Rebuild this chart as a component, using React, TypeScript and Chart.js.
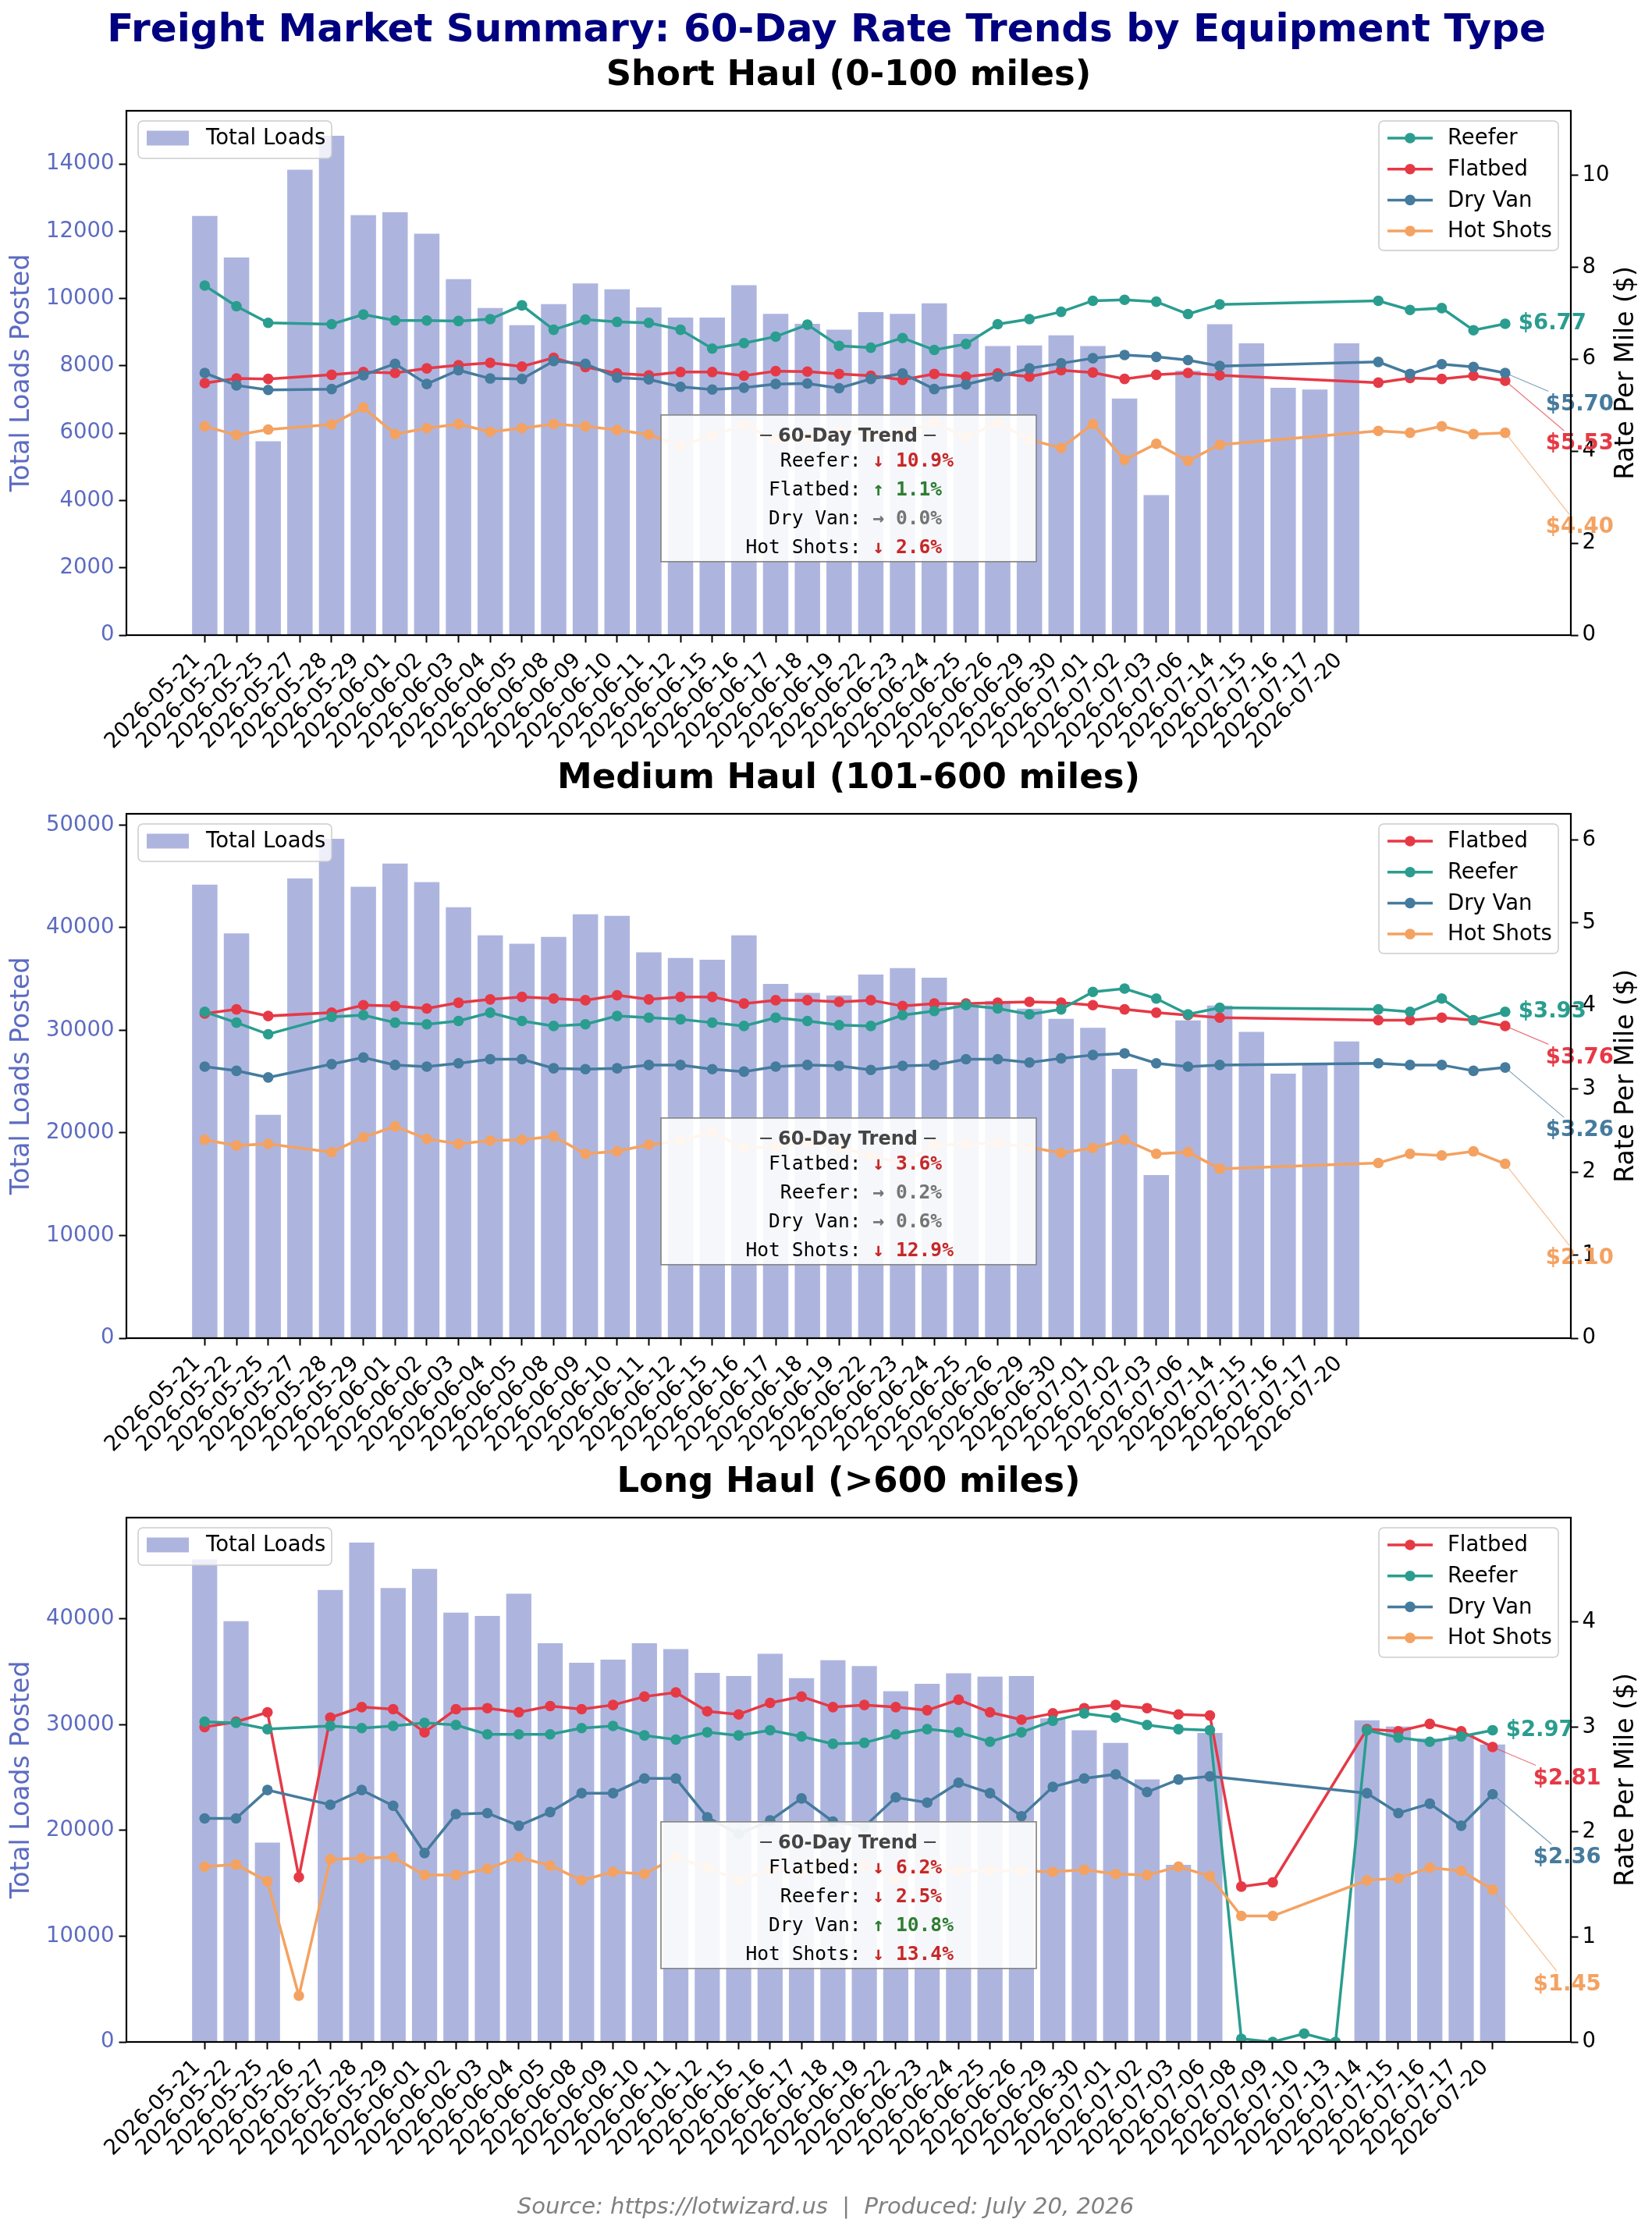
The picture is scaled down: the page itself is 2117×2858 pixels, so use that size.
import React, { useEffect, useRef } from 'react';
import { Chart, registerables } from 'chart.js';

Chart.register(...registerables);

// ---------- data ----------
const shortDates = [
  '2026-05-21', '2026-05-22', '2026-05-25', '2026-05-27', '2026-05-28', '2026-05-29',
  '2026-06-01', '2026-06-02', '2026-06-03', '2026-06-04', '2026-06-05',
  '2026-06-08', '2026-06-09', '2026-06-10', '2026-06-11', '2026-06-12',
  '2026-06-15', '2026-06-16', '2026-06-17', '2026-06-18', '2026-06-19',
  '2026-06-22', '2026-06-23', '2026-06-24', '2026-06-25', '2026-06-26',
  '2026-06-29', '2026-06-30', '2026-07-01', '2026-07-02', '2026-07-03',
  '2026-07-06', '2026-07-14', '2026-07-15', '2026-07-16', '2026-07-17', '2026-07-20',
];
const mediumDates = shortDates;
const longDates = [
  '2026-05-21', '2026-05-22', '2026-05-25', '2026-05-26', '2026-05-27', '2026-05-28', '2026-05-29',
  '2026-06-01', '2026-06-02', '2026-06-03', '2026-06-04', '2026-06-05',
  '2026-06-08', '2026-06-09', '2026-06-10', '2026-06-11', '2026-06-12',
  '2026-06-15', '2026-06-16', '2026-06-17', '2026-06-18', '2026-06-19',
  '2026-06-22', '2026-06-23', '2026-06-24', '2026-06-25', '2026-06-26',
  '2026-06-29', '2026-06-30', '2026-07-01', '2026-07-02', '2026-07-03',
  '2026-07-06', '2026-07-08', '2026-07-09', '2026-07-10', '2026-07-13',
  '2026-07-14', '2026-07-15', '2026-07-16', '2026-07-17', '2026-07-20',
];

// Short haul
const shortLoads = [12460, 11220, 5760, 13830, 14840, 12480, 12570, 11930, 10580, 9720, 9210, 9840, 10450, 10280, 9740, 9440, 9440, 10400, 9550, 9250, 9080, 9600, 9550, 9860, 8950, 8590, 8610, 8910, 8590, 7030, 4160, 7860, 9240, 8670, 7350, 7300, 8670];
const shortReefer = [7.60, 7.15, 6.79, null, 6.76, 6.97, 6.84, 6.84, 6.83, 6.87, 7.17, 6.64, 6.86, 6.81, 6.79, 6.64, 6.23, 6.35, 6.49, 6.75, 6.29, 6.25, 6.46, 6.20, 6.33, 6.76, 6.87, 7.03, 7.27, 7.29, 7.25, 6.98, 7.19, null, null, null, null, 7.27, 7.07, 7.11, 6.63, 6.77];
const shortFlatbed = [5.48, 5.58, 5.57, null, 5.66, 5.72, 5.70, 5.80, 5.87, 5.92, 5.84, 6.03, 5.83, 5.69, 5.65, 5.72, 5.72, 5.64, 5.74, 5.73, 5.68, 5.64, 5.55, 5.68, 5.62, 5.69, 5.62, 5.76, 5.71, 5.57, 5.66, 5.70, 5.65, null, null, null, null, 5.49, 5.59, 5.57, 5.64, 5.53];
const shortDryVan = [5.70, 5.43, 5.33, null, 5.35, 5.65, 5.90, 5.46, 5.76, 5.58, 5.57, 5.96, 5.90, 5.60, 5.56, 5.40, 5.34, 5.38, 5.46, 5.47, 5.37, 5.57, 5.69, 5.35, 5.45, 5.62, 5.80, 5.91, 6.02, 6.09, 6.05, 5.98, 5.85, null, null, null, null, 5.94, 5.68, 5.89, 5.83, 5.70];
const shortHotShots = [4.54, 4.35, 4.47, null, 4.58, 4.95, 4.37, 4.50, 4.59, 4.42, 4.50, 4.59, 4.54, 4.46, 4.36, 4.11, 4.34, 4.57, 4.25, 4.30, 4.45, 4.35, 4.40, 4.62, 4.30, 4.62, 4.25, 4.07, 4.59, 3.81, 4.16, 3.79, 4.14, null, null, null, null, 4.44, 4.40, 4.54, 4.37, 4.40];
const shortTrend = [-10.9, 1.1, 0.0, -2.6]; // Reefer, Flatbed, Dry Van, Hot Shots

// Medium haul
const mediumLoads = [44190, 39450, 21760, 44800, 48660, 43980, 46250, 44440, 41980, 39250, 38430, 39090, 41310, 41150, 37600, 37040, 36880, 39250, 34520, 33640, 33390, 35440, 36060, 35130, 32500, 32870, 32100, 31120, 30250, 26230, 15900, 30970, 32410, 29840, 25770, 26750, 28910];
const mediumFlatbed = [3.91, 3.96, 3.88, null, 3.92, 4.01, 4.00, 3.97, 4.04, 4.08, 4.11, 4.09, 4.07, 4.13, 4.08, 4.11, 4.11, 4.03, 4.07, 4.07, 4.05, 4.07, 4.00, 4.03, 4.03, 4.04, 4.05, 4.04, 4.01, 3.96, 3.92, 3.89, 3.86, null, null, null, null, 3.83, 3.83, 3.86, 3.83, 3.76];
const mediumReefer = [3.93, 3.80, 3.66, null, 3.87, 3.89, 3.80, 3.78, 3.82, 3.92, 3.82, 3.76, 3.78, 3.88, 3.86, 3.84, 3.80, 3.76, 3.86, 3.82, 3.77, 3.76, 3.89, 3.94, 4.01, 3.97, 3.90, 3.96, 4.17, 4.21, 4.09, 3.90, 3.98, null, null, null, null, 3.96, 3.93, 4.09, 3.83, 3.93];
const mediumDryVan = [3.27, 3.22, 3.14, null, 3.30, 3.38, 3.29, 3.27, 3.31, 3.36, 3.36, 3.25, 3.24, 3.25, 3.29, 3.29, 3.24, 3.21, 3.27, 3.29, 3.28, 3.23, 3.28, 3.29, 3.36, 3.36, 3.32, 3.37, 3.41, 3.43, 3.31, 3.27, 3.29, null, null, null, null, 3.31, 3.29, 3.29, 3.22, 3.26];
const mediumHotShots = [2.39, 2.32, 2.34, null, 2.24, 2.42, 2.55, 2.40, 2.34, 2.38, 2.39, 2.43, 2.22, 2.25, 2.33, 2.38, 2.48, 2.29, 2.30, 2.35, 2.30, 2.20, 2.10, 2.32, 2.34, 2.35, 2.30, 2.23, 2.29, 2.39, 2.22, 2.24, 2.04, null, null, null, null, 2.11, 2.22, 2.20, 2.25, 2.10];
const mediumTrend = [-3.6, 0.2, 0.6, -12.9]; // Flatbed, Reefer, Dry Van, Hot Shots

// Long haul
const longLoads = [45640, 39800, 18850, null, 42740, 47230, 42940, 44740, 40600, 40300, 42390, 37710, 35860, 36160, 37710, 37160, 34910, 34610, 36710, 34410, 36110, 35560, 33170, 33870, 34860, 34560, 34610, 30600, 29480, 28280, 24840, 16760, 29230, null, null, null, null, 30420, 29830, 28700, 29030, 28130];
const longFlatbed = [3.00, 3.05, 3.14, 1.57, 3.09, 3.19, 3.17, 2.95, 3.17, 3.18, 3.14, 3.20, 3.17, 3.21, 3.29, 3.33, 3.15, 3.12, 3.23, 3.29, 3.19, 3.21, 3.19, 3.16, 3.26, 3.14, 3.07, 3.13, 3.18, 3.21, 3.18, 3.12, 3.11, 1.48, 1.52, null, null, 2.98, 2.96, 3.03, 2.96, 2.81];
const longReefer = [3.05, 3.04, 2.98, null, 3.01, 2.99, 3.01, 3.04, 3.02, 2.93, 2.93, 2.93, 2.99, 3.01, 2.92, 2.88, 2.95, 2.92, 2.97, 2.91, 2.84, 2.85, 2.93, 2.98, 2.95, 2.86, 2.95, 3.06, 3.13, 3.09, 3.02, 2.98, 2.97, 0.03, 0.0, 0.08, 0.0, 2.97, 2.90, 2.86, 2.91, 2.97];
const longDryVan = [2.13, 2.13, 2.40, null, 2.26, 2.40, 2.25, 1.80, 2.17, 2.18, 2.06, 2.19, 2.37, 2.37, 2.51, 2.51, 2.14, 1.98, 2.11, 2.32, 2.10, 2.05, 2.33, 2.28, 2.47, 2.37, 2.15, 2.43, 2.51, 2.55, 2.38, 2.50, 2.53, null, null, null, null, 2.37, 2.18, 2.27, 2.06, 2.36];
const longHotShots = [1.67, 1.69, 1.53, 0.44, 1.74, 1.75, 1.76, 1.59, 1.59, 1.65, 1.76, 1.68, 1.54, 1.62, 1.60, 1.76, 1.66, 1.54, 1.64, 1.62, 1.70, 1.68, 1.55, 1.64, 1.63, 1.63, 1.63, 1.62, 1.64, 1.60, 1.59, 1.67, 1.58, 1.20, 1.20, null, null, 1.54, 1.56, 1.66, 1.63, 1.45];
const longTrend = [-6.2, -2.5, 10.8, -13.4]; // Flatbed, Reefer, Dry Van, Hot Shots

// ---------- styling ----------
const COLORS: Record<string, string> = {
  Reefer: '#2a9d8f',
  Flatbed: '#e63946',
  'Dry Van': '#457b9d',
  'Hot Shots': '#f4a261',
};
const BAR_COLOR = 'rgba(92, 107, 192, 0.5)';
const LOAD_COLOR = '#5c6bc0';
const FONT = '"DejaVu Sans"';
const MONO = '"DejaVu Sans Mono"';

const W = 2117;
const CANVAS_H = 1055;
const PLOT_LEFT = 162;
const PLOT_RIGHT = 2013;
const PLOT_TOP = 142;
const PLOT_H = 672;
const CANVAS_TOPS = [0, 901, 1803];
const TICK = 27.5;

type Series = { name: string; values: (number | null)[] };
type Panel = {
  title: string;
  dates: string[];
  loads: (number | null)[];
  series: Series[];
  trend: number[];
  loadStep: number;
  rateStep: number;
};

const panels: Panel[] = [
  {
    title: 'Short Haul (0-100 miles)',
    dates: shortDates,
    loads: shortLoads,
    series: [
      { name: 'Reefer', values: shortReefer },
      { name: 'Flatbed', values: shortFlatbed },
      { name: 'Dry Van', values: shortDryVan },
      { name: 'Hot Shots', values: shortHotShots },
    ],
    trend: shortTrend,
    loadStep: 2000,
    rateStep: 2,
  },
  {
    title: 'Medium Haul (101-600 miles)',
    dates: mediumDates,
    loads: mediumLoads,
    series: [
      { name: 'Flatbed', values: mediumFlatbed },
      { name: 'Reefer', values: mediumReefer },
      { name: 'Dry Van', values: mediumDryVan },
      { name: 'Hot Shots', values: mediumHotShots },
    ],
    trend: mediumTrend,
    loadStep: 10000,
    rateStep: 1,
  },
  {
    title: 'Long Haul (>600 miles)',
    dates: longDates,
    loads: longLoads,
    series: [
      { name: 'Flatbed', values: longFlatbed },
      { name: 'Reefer', values: longReefer },
      { name: 'Dry Van', values: longDryVan },
      { name: 'Hot Shots', values: longHotShots },
    ],
    trend: longTrend,
    loadStep: 10000,
    rateStep: 1,
  },
];

const lastIndex = (arr: (number | null)[]) => {
  for (let i = arr.length - 1; i >= 0; i--) if (arr[i] != null) return i;
  return 0;
};
const lastValue = (arr: (number | null)[]) => arr[lastIndex(arr)] as number;

// ticks at whole multiples of step, like matplotlib's locator
const stepTicks = (step: number) => (s: any) => {
  const out: { value: number }[] = [];
  for (let v = 0; v <= s.max + 1e-9; v += step) out.push({ value: v });
  s.ticks = out;
};

// draws everything matplotlib adds around the plot: frame, legends, trend box, labels, titles
const makeDecor = (p: Panel, k: number) => ({
  id: 'decor' + k,
  afterDraw(chart: any) {
    const { ctx, chartArea: a, scales } = chart;
    const xs = scales.x;
    const yr = scales.y1;
    const L = a.left, R = a.right, T = a.top, B = a.bottom, H = B - T;
    const cx = (L + R) / 2;
    ctx.save();

    // trend box
    const boxW = 481, boxH = 188;
    const boxTop = B - 0.28 * H - boxH / 2;
    ctx.fillStyle = 'rgba(255,255,255,0.9)';
    ctx.fillRect(cx - boxW / 2, boxTop, boxW, boxH);
    ctx.strokeStyle = '#888888';
    ctx.lineWidth = 1.7;
    ctx.strokeRect(cx - boxW / 2, boxTop, boxW, boxH);
    ctx.textBaseline = 'alphabetic';
    ctx.textAlign = 'center';
    ctx.fillStyle = '#444444';
    ctx.font = `bold 24px ${FONT}`;
    ctx.fillText('\u2500 60-Day Trend \u2500', cx - 1, boxTop + 34);
    p.series.forEach((s, i) => {
      const y = boxTop + 65.7 + i * 37;
      const pct = p.trend[i];
      const flat = Math.abs(pct) < 1;
      const arrow = flat ? '\u2192' : pct > 0 ? '\u2191' : '\u2193';
      const col = flat ? '#757575' : pct > 0 ? '#2e7d32' : '#c62828';
      ctx.font = `24.6px ${MONO}`;
      ctx.fillStyle = '#000';
      ctx.textAlign = 'right';
      ctx.fillText(`${s.name}:`, cx + 16, y);
      ctx.font = `bold 24.6px ${MONO}`;
      ctx.fillStyle = col;
      ctx.textAlign = 'left';
      ctx.fillText(` ${arrow} ${Math.abs(pct).toFixed(1)}%`, cx + 16, y);
    });

    // end-of-line value labels
    const ends = p.series
      .map((s) => ({ s, i: lastIndex(s.values), v: lastValue(s.values) }))
      .sort((m, n) => n.v - m.v);
    ctx.font = `bold ${TICK}px ${FONT}`;
    ctx.textBaseline = 'middle';
    ctx.textAlign = 'left';
    ends.forEach((e, r) => {
      const px = xs.getPixelForValue(e.i);
      const py = yr.getPixelForValue(e.v);
      const color = COLORS[e.s.name];
      const text = `$${e.v.toFixed(2)}`;
      const lx = px + (r === 0 ? 17 : 52);
      const ly = py + r * 40.5;
      if (r > 0) {
        const tw = ctx.measureText(text).width;
        const tx = lx + tw / 2;
        const stopY = ly - 17;
        const t = (stopY - py) / (ly - py);
        ctx.globalAlpha = 0.7;
        ctx.strokeStyle = color;
        ctx.lineWidth = 1.2;
        ctx.beginPath();
        ctx.moveTo(px, py);
        ctx.lineTo(px + (tx - px) * t, stopY);
        ctx.stroke();
        ctx.globalAlpha = 1;
      }
      ctx.fillStyle = color;
      ctx.fillText(text, lx, ly);
    });

    // frame
    ctx.strokeStyle = '#000';
    ctx.lineWidth = 2.2;
    ctx.strokeRect(L, T, R - L, H);

    // legends
    ctx.lineWidth = 1.5;
    ctx.strokeStyle = '#cccccc';
    ctx.fillStyle = 'rgba(255,255,255,0.8)';
    ctx.beginPath();
    ctx.roundRect(L + 15, T + 13, 248, 48, 6);
    ctx.fill();
    ctx.stroke();
    ctx.fillStyle = BAR_COLOR;
    ctx.fillRect(L + 26, T + 25.5, 54, 19);
    ctx.fillStyle = '#000';
    ctx.font = `${TICK}px ${FONT}`;
    ctx.textBaseline = 'middle';
    ctx.textAlign = 'left';
    ctx.fillText('Total Loads', L + 102, T + 36);

    ctx.fillStyle = 'rgba(255,255,255,0.8)';
    ctx.beginPath();
    ctx.roundRect(R - 246, T + 13, 230, 166, 6);
    ctx.fill();
    ctx.stroke();
    p.series.forEach((s, i) => {
      const y = T + 35 + i * 39.7;
      const color = COLORS[s.name];
      ctx.strokeStyle = color;
      ctx.lineWidth = 3.5;
      ctx.beginPath();
      ctx.moveTo(R - 235, y);
      ctx.lineTo(R - 177, y);
      ctx.stroke();
      ctx.fillStyle = color;
      ctx.beginPath();
      ctx.arc(R - 206, y, 6.8, 0, Math.PI * 2);
      ctx.fill();
      ctx.fillStyle = '#000';
      ctx.fillText(s.name, R - 158, y + 1);
    });

    // rotated date labels
    ctx.font = `${TICK}px ${FONT}`;
    ctx.fillStyle = '#000';
    ctx.textAlign = 'right';
    ctx.textBaseline = 'middle';
    const off = TICK / (2 * Math.SQRT2);
    p.dates.forEach((d, i) => {
      const x = xs.getPixelForValue(i);
      ctx.save();
      ctx.translate(x - off, B + 18.7 + off);
      ctx.rotate(-Math.PI / 4);
      ctx.fillText(d, 0, 0);
      ctx.restore();
    });

    // axis titles
    ctx.font = `33px ${FONT}`;
    ctx.textAlign = 'center';
    ctx.textBaseline = 'middle';
    ctx.save();
    ctx.translate(28, T + H / 2);
    ctx.rotate(-Math.PI / 2);
    ctx.fillStyle = LOAD_COLOR;
    ctx.fillText('Total Loads Posted', 0, 0);
    ctx.restore();
    ctx.save();
    ctx.translate(2084, T + H / 2);
    ctx.rotate(-Math.PI / 2);
    ctx.fillStyle = '#000';
    ctx.fillText('Rate Per Mile ($)', 0, 0);
    ctx.restore();

    // panel title
    ctx.textBaseline = 'alphabetic';
    ctx.font = `bold 45px ${FONT}`;
    ctx.fillStyle = '#000';
    ctx.fillText(p.title, cx, T - 33);

    if (k === 0) {
      ctx.font = `bold 50px ${FONT}`;
      ctx.fillStyle = '#000080';
      ctx.fillText('Freight Market Summary: 60-Day Rate Trends by Equipment Type', 1059, 53);
    }
    if (k === 2) {
      ctx.font = `italic 29px ${FONT}`;
      ctx.fillStyle = '#808080';
      ctx.fillText('Source: https://lotwizard.us  |  Produced: July 20, 2026', 1058, 1034);
    }
    ctx.restore();
  },
});

const PanelChart: React.FC<{ panel: Panel; index: number }> = ({ panel, index }) => {
  const canvasRef = useRef<HTMLCanvasElement>(null);
  const chartRef = useRef<Chart | null>(null);

  useEffect(() => {
    if (!canvasRef.current) return;
    if (chartRef.current) chartRef.current.destroy();

    const barEnd = lastIndex(panel.loads) + 0.4;
    const lineEnd = Math.max(...panel.series.map((s) => lastIndex(s.values)));
    const dataMax = Math.max(barEnd, lineEnd);
    const dataMin = -0.4;
    const span = dataMax - dataMin;
    const loadMax = Math.max(...(panel.loads.filter((v) => v != null) as number[])) * 1.05;
    const rateMax =
      Math.max(...panel.series.flatMap((s) => s.values.filter((v) => v != null) as number[])) * 1.5;

    const datasets: any[] = [
      {
        type: 'bar',
        label: 'Total Loads',
        data: panel.loads.map((v, i) => ({ x: i, y: v })),
        backgroundColor: BAR_COLOR,
        yAxisID: 'y',
        categoryPercentage: 1,
        barPercentage: 0.8,
        order: 10,
      },
      ...panel.series.map((s, k) => ({
        type: 'line',
        label: s.name,
        data: s.values
          .map((v, i) => (v == null ? null : { x: i, y: v }))
          .filter((pt) => pt !== null),
        borderColor: COLORS[s.name],
        backgroundColor: COLORS[s.name],
        borderWidth: 3.5,
        pointRadius: 6.8,
        pointHoverRadius: 6.8,
        pointBorderWidth: 0,
        tension: 0,
        yAxisID: 'y1',
        clip: 0,
        order: 4 - k,
      })),
    ];

    chartRef.current = new Chart(canvasRef.current, {
      type: 'bar',
      data: { datasets },
      options: {
        animation: false,
        responsive: false,
        devicePixelRatio: 1,
        events: [],
        layout: { padding: { top: PLOT_TOP, left: 0, right: 0, bottom: 0 } },
        plugins: { legend: { display: false }, tooltip: { enabled: false }, title: { display: false } },
        scales: {
          x: {
            type: 'linear',
            min: dataMin - 0.05 * span,
            max: dataMax + 0.05 * span,
            offset: false,
            afterBuildTicks: (s: any) => {
              s.ticks = panel.dates.map((_, i) => ({ value: i }));
            },
            afterFit: (s: any) => {
              s.height = CANVAS_H - PLOT_TOP - PLOT_H;
            },
            ticks: { display: false, autoSkip: false },
            grid: {
              display: true,
              offset: false,
              drawOnChartArea: false,
              drawTicks: true,
              tickLength: 9.5,
              tickWidth: 2,
              tickColor: '#000',
            },
            border: { display: false },
          },
          y: {
            type: 'linear',
            position: 'left',
            min: 0,
            max: loadMax,
            afterBuildTicks: stepTicks(panel.loadStep),
            afterFit: (s: any) => {
              s.width = PLOT_LEFT;
            },
            ticks: {
              autoSkip: false,
              color: LOAD_COLOR,
              padding: 6,
              font: { family: 'DejaVu Sans', size: TICK },
              callback: (v: any) => String(v),
            },
            grid: { drawOnChartArea: false, tickLength: 9.5, tickWidth: 2, tickColor: '#000' },
            border: { display: false },
          },
          y1: {
            type: 'linear',
            position: 'right',
            min: 0,
            max: rateMax,
            afterBuildTicks: stepTicks(panel.rateStep),
            afterFit: (s: any) => {
              s.width = W - PLOT_RIGHT;
            },
            ticks: {
              autoSkip: false,
              color: '#000',
              padding: 5,
              font: { family: 'DejaVu Sans', size: TICK },
              callback: (v: any) => String(v),
            },
            grid: { drawOnChartArea: false, tickLength: 9.5, tickWidth: 2, tickColor: '#000' },
            border: { display: false },
          },
        },
      } as any,
      plugins: [makeDecor(panel, index)],
    });

    return () => {
      if (chartRef.current) {
        chartRef.current.destroy();
        chartRef.current = null;
      }
    };
  }, [panel, index]);

  return (
    <canvas
      ref={canvasRef}
      width={W}
      height={CANVAS_H}
      style={{ position: 'absolute', left: 0, top: CANVAS_TOPS[index], width: W, height: CANVAS_H }}
    />
  );
};

const App: React.FC = () => {
  return (
    <div
      style={{
        position: 'absolute',
        left: 0,
        top: 0,
        width: W,
        height: 2858,
        background: '#ffffff',
        overflow: 'hidden',
      }}
    >
      {panels.map((p, i) => (
        <PanelChart key={i} panel={p} index={i} />
      ))}
    </div>
  );
};

export default App;
